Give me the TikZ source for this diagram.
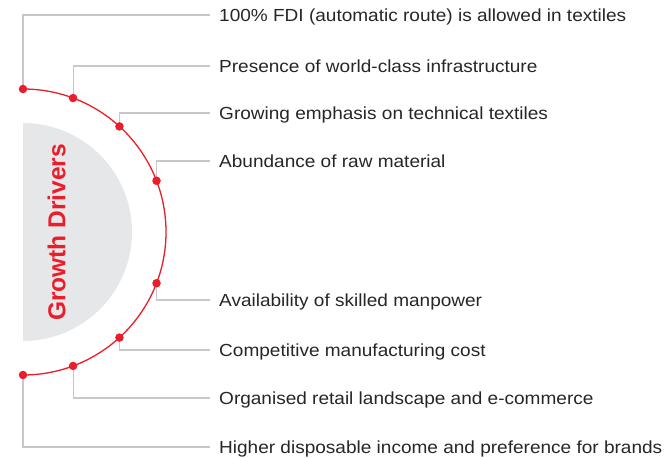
\documentclass[tikz,border=0pt]{standalone}
\usepackage{fontspec}
\setmainfont[FakeStretch=1.087]{Liberation Sans}
\newfontfamily\titlefont{Liberation Sans}
\usetikzlibrary{calc,backgrounds}
\begin{document}
\begin{tikzpicture}[x=1pt,y=1pt,
  dot/.style={circle,fill=gdred,inner sep=0pt,minimum size=8.5pt},
  label/.style={anchor=west,inner xsep=9pt,inner ysep=0pt,text height=12.5pt,text depth=0pt,font=\fontsize{17.5}{20}\selectfont,text=black!85},
  conn/.style={draw=gdgray,line width=1.1pt},
]
\definecolor{gdred}{HTML}{EA1D2A}
\definecolor{gdgray}{HTML}{C8C8C8}
\definecolor{gdfill}{HTML}{E6E7E8}
\useasboundingbox (0,0) rectangle (668,457);
\coordinate (C) at (23,225);
% gray half disc
\fill[gdfill] (23,334) arc[start angle=90,end angle=-90,radius=109] -- cycle;
\node[rotate=90,text=gdred,font=\titlefont\bfseries\fontsize{24.5}{28}\selectfont,inner sep=0pt] (title) at (56.5,224.5) {Growth Drivers};
% red arc
\draw[gdred,line width=1.3pt] (23,368) arc[start angle=90,end angle=-90,radius=143];
% dots
\foreach \n/\a in {d1/90,d2/69.5,d3/47.6,d4/21,d5/-21,d6/-47.6,d7/-69.5,d8/-90}
  \node[dot] (\n) at ($(C)+(\a:143)$) {};
% labels
\node[label] (t1) at (210,442) {100\% FDI (automatic route) is allowed in textiles};
\node[label] (t2) at (210,391) {Presence of world-class infrastructure};
\node[label] (t3) at (210,344) {Growing emphasis on technical textiles};
\node[label] (t4) at (210,296) {Abundance of raw material};
\node[label] (t5) at (210,157) {Availability of skilled manpower};
\node[label] (t6) at (210,107) {Competitive manufacturing cost};
\node[label] (t7) at (210,59) {Organised retail landscape and e-commerce};
\node[label] (t8) at (210,10) {Higher disposable income and preference for brands};
% connectors
\begin{scope}[on background layer]
\foreach \i in {1,...,8}
  \draw[conn] (d\i.center) |- (t\i.west);
\end{scope}
\end{tikzpicture}
\end{document}
